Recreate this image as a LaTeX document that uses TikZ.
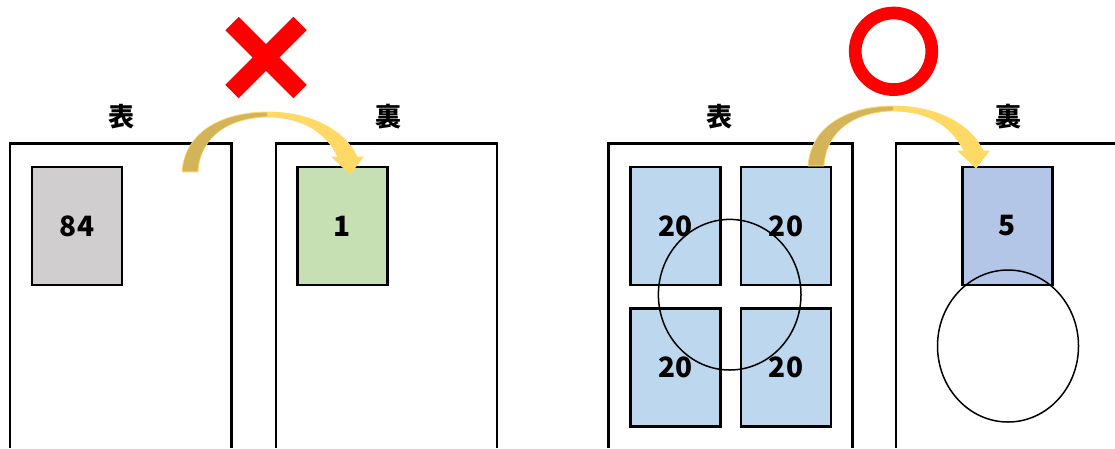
\documentclass[tikz,border=0pt]{standalone}
\usepackage{fontspec}
\usepackage{tikz}
\newfontfamily\jp{Noto Sans CJK JP}
\usetikzlibrary{calc}

\definecolor{cardgray}{HTML}{D0CECE}
\definecolor{cardgreen}{HTML}{C6E0B4}
\definecolor{cardblue}{HTML}{BDD7EE}
\definecolor{cardsteel}{HTML}{B4C6E7}
\definecolor{arrowlight}{HTML}{FFD966}
\definecolor{arrowdark}{HTML}{D4B45A}

\tikzset{
  page/.style={line width=2.7pt},
  card/.style={draw, line width=2.7pt, minimum width=90pt, minimum height=118pt, inner sep=0pt, font=\jp\bfseries\fontsize{28}{30}\selectfont},
  lbl/.style={font=\jp\bfseries\fontsize{26}{28}\selectfont, inner sep=0pt},
  hole/.style={line width=1.5pt},
  turnarrow/.pic={
    % whole band, light
    \filldraw[fill=arrowlight, draw=arrowlight, line width=0.8pt]
      (0,0) .. controls (3,-42) and (43,-60) .. (85,-60)
      .. controls (128,-60) and (163,-42) .. (175,-15)
      -- (181,-15) -- (168,2) -- (150,-15) -- (156,-15)
      .. controls (143,-42) and (118,-55) .. (85,-55)
      .. controls (48,-54) and (18,-37) .. (16,0) -- cycle;
    % tail half, dark
    \fill[arrowdark]
      (0.6,-0.6) .. controls (3.6,-42) and (43,-59.4) .. (85,-59.4)
      -- (85,-55.6) .. controls (48,-54.6) and (18.6,-37) .. (15.4,-0.6) -- cycle;
  }
}

\begin{document}
\begin{tikzpicture}[x=1pt, y=-1pt]
\useasboundingbox (0,0) rectangle (1115,448);

% pages
\draw[page] (10,448) -- (10,143.3) -- (231.7,143.3) -- (231.7,448);
\draw[page] (276,448) -- (276,143.3) -- (497,143.3) -- (497,448);
\draw[page] (608.3,448) -- (608.3,143.3) -- (852.3,143.3) -- (852.3,448);
\draw[page] (896,448) -- (896,143.3) -- (1115,143.3);

% labels
\node[lbl] (front1) at (121,117) {表};
\node[lbl] (back1) at (388,117) {裏};
\node[lbl] (front2) at (719,117) {表};
\node[lbl] (back2) at (1008,117) {裏};

% cards
\node[card, fill=cardgray] (c84) at (77,226) {84};
\node[card, fill=cardgreen] (c1) at (342.5,226) {1};
\node[card, fill=cardblue] (ca) at (675.3,226) {20};
\node[card, fill=cardblue] (cb) at (786,226) {20};
\node[card, fill=cardblue] (cc) at (675.3,367.5) {20};
\node[card, fill=cardblue] (cd) at (786,367.5) {20};
\node[card, fill=cardsteel] (c5) at (1007.5,226) {5};

% holes
\draw[hole] (729.7,294.7) ellipse [x radius=71.3pt, y radius=75.3pt];
\draw[hole] (1008,346) ellipse [x radius=70.5pt, y radius=76pt];

% marks
\draw[red, line width=19pt] (232,23.5) -- (300,91.5) (300,23.5) -- (232,91.5);
\draw[red, line width=12.7pt] (893.5,51.3) circle (38.3pt);

% arrows
\pic at (182,172) {turnarrow};
\pic at (808,166) {turnarrow};
\end{tikzpicture}
\end{document}
